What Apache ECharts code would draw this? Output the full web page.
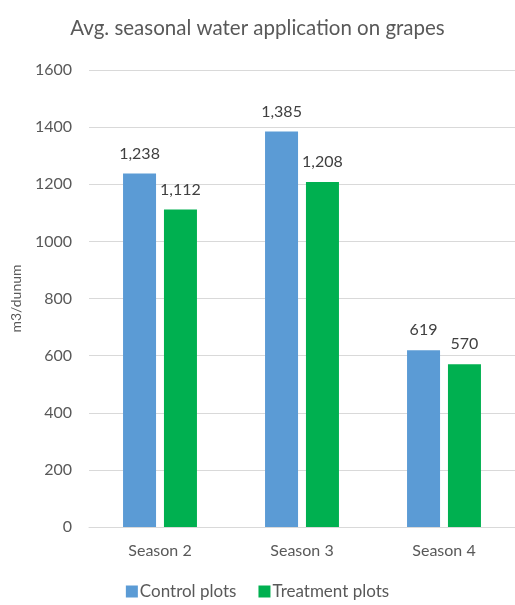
<!DOCTYPE html>
<html><head><meta charset="utf-8">
<script src="https://cdn.jsdelivr.net/npm/echarts@6/dist/echarts.min.js"></script>
<style>html,body{margin:0;padding:0;background:#fff}#c{width:515px;height:605px}</style>
</head><body><div id="c"></div>
<script>
const categories = ['Season 2', 'Season 3', 'Season 4'];
const controlPlots = [1238, 1385, 619];
const treatmentPlots = [1112, 1208, 570];
const seriesNames = ['Control plots', 'Treatment plots'];
const FONT = 'Lato, "Open Sans", sans-serif';
const TXT = '#595959';
const chart = echarts.init(document.getElementById('c'));
const fmt = p => p.value.toLocaleString('en-US');
chart.setOption({
  animation: false,
  title: { text: 'Avg. seasonal water application on grapes', left: 'center', top: 13,
    textStyle: { fontFamily: FONT, fontSize: 20.5, fontWeight: 'normal', color: TXT } },
  legend: { bottom: 0, left: 'center', itemWidth: 12, itemHeight: 12, itemGap: 22,
    icon: 'rect', textStyle: { fontFamily: FONT, fontSize: 17, color: TXT, padding: [0,0,0,-3] } },
  grid: { left: 89, right: 0, top: 70, bottom: 78 },
  xAxis: { type: 'category', data: categories,
    axisLine: { lineStyle: { color: '#d9d9d9', width: 1 } }, axisTick: { show: false },
    axisLabel: { fontFamily: FONT, fontSize: 16, color: TXT, margin: 16 } },
  yAxis: { type: 'value', min: 0, max: 1600, interval: 200,
    name: 'm3/dunum', nameLocation: 'middle', nameGap: 66, nameRotate: 90,
    nameTextStyle: { fontFamily: FONT, fontSize: 14, color: TXT },
    axisLabel: { fontFamily: FONT, fontSize: 16, color: TXT, margin: 17, formatter: v => String(v) },
    splitLine: { lineStyle: { color: '#d9d9d9', width: 1 } } },
  series: [
    { name: seriesNames[0], type: 'bar', data: controlPlots, barWidth: 33, barGap: '24%',
      itemStyle: { color: '#5B9BD5' },
      label: { show: true, position: 'top', distance: 12, formatter: fmt, fontFamily: FONT, fontSize: 16, color: '#404040' } },
    { name: seriesNames[1], type: 'bar', data: treatmentPlots, barWidth: 33,
      itemStyle: { color: '#00B050' },
      label: { show: true, position: 'top', distance: 12, formatter: fmt, fontFamily: FONT, fontSize: 16, color: '#404040' } }
  ]
});
</script></body></html>
